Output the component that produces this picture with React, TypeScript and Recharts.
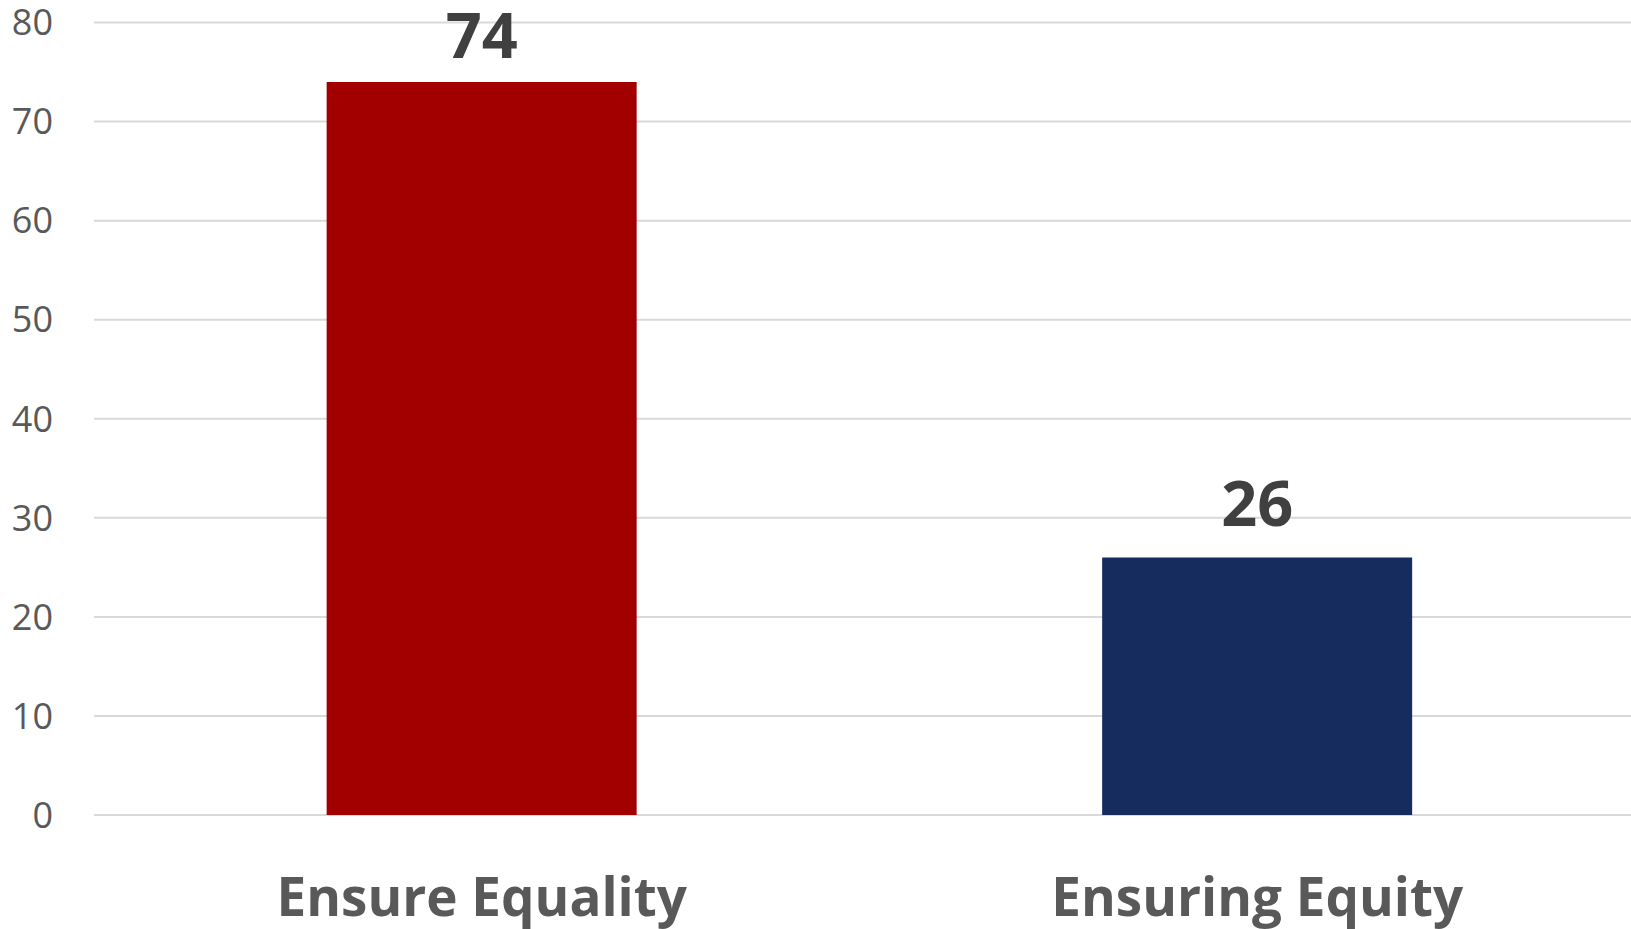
import React from "react";
import { BarChart, Bar, XAxis, YAxis, CartesianGrid, LabelList, Cell } from "recharts";

const categories = ["Ensure Equality", "Ensuring Equity"];
const shares = [74, 26];
const barColors = ["#a20000", "#172c5e"];
const yTicks = [0, 10, 20, 30, 40, 50, 60, 70, 80];

const data = categories.map((name, i) => ({ name, value: shares[i] }));

const FONT = "'Open Sans', 'DejaVu Sans', sans-serif";

const renderValueLabel = (props: any) => {
  const { x, y, width, value } = props;
  const baseline = Math.max(Number(y) - 31, 58);
  return (
    <text
      x={Number(x) + Number(width) / 2}
      y={baseline}
      textAnchor="middle"
      fontFamily={FONT}
      fontSize={63}
      fontWeight={700}
      fill="#404040"
    >
      {value}
    </text>
  );
};

export default function App() {
  return (
    <div
      style={{
        position: "absolute",
        left: 0,
        top: 0,
        width: 1631,
        height: 929,
        overflow: "hidden",
        background: "#ffffff",
      }}
    >
      <BarChart
        width={1645}
        height={929}
        data={data}
        margin={{ top: 22.5, right: 0, bottom: 0, left: 0 }}
        barCategoryGap="30%"
      >
        <CartesianGrid horizontal vertical={false} stroke="#d9d9d9" strokeWidth={2} />
        <XAxis
          dataKey="name"
          axisLine={false}
          tickLine={false}
          tickSize={0}
          tickMargin={63}
          height={114}
          interval={0}
          tick={{ fontFamily: FONT, fontSize: 53, fontWeight: 700, fill: "#595959" }}
        />
        <YAxis
          domain={[0, 80]}
          ticks={yTicks}
          width={94}
          axisLine={false}
          tickLine={false}
          tickSize={0}
          tickMargin={41}
          tick={{ fontFamily: FONT, fontSize: 36, fill: "#595959" }}
        />
        <Bar dataKey="value" isAnimationActive={false}>
          {data.map((d, i) => (
            <Cell key={d.name} fill={barColors[i]} />
          ))}
          <LabelList dataKey="value" content={renderValueLabel} />
        </Bar>
      </BarChart>
    </div>
  );
}
